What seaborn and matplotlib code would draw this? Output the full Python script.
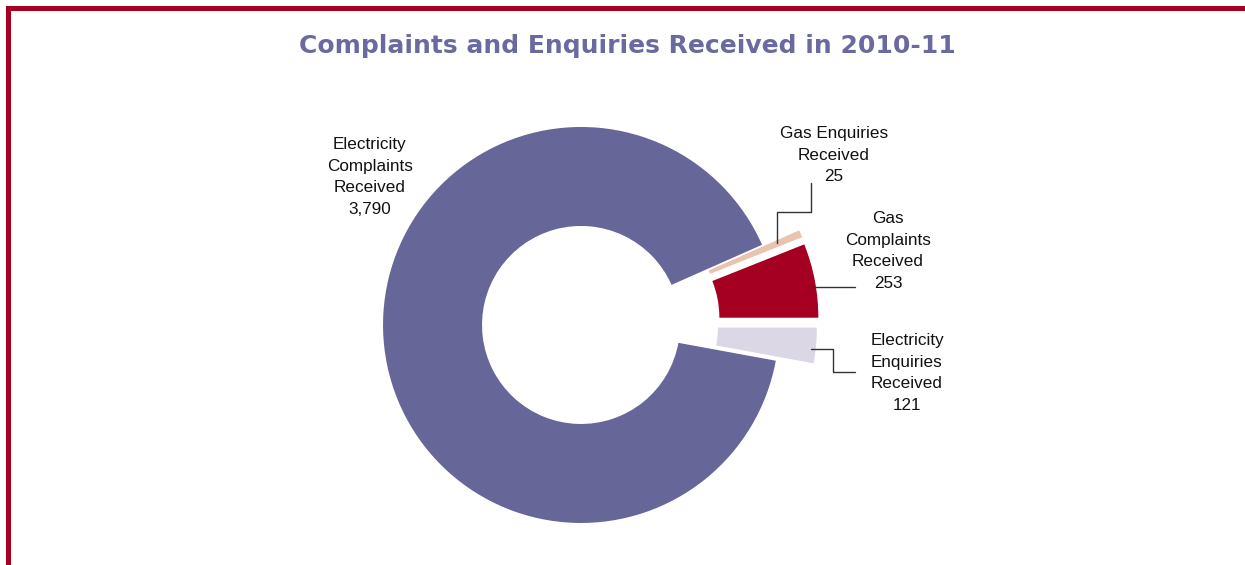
import matplotlib
matplotlib.use("Agg")
import matplotlib.pyplot as plt
import seaborn as sns
from matplotlib.patches import Rectangle

# Complaints and enquiries received, 2010-11
categories = ["Gas Complaints Received", "Gas Enquiries Received",
              "Electricity Complaints Received", "Electricity Enquiries Received"]
values = [253, 25, 3790, 121]
value_labels = ["253", "25", "3,790", "121"]
label_text = ["Gas\nComplaints\nReceived", "Gas Enquiries\nReceived",
              "Electricity\nComplaints\nReceived", "Electricity\nEnquiries\nReceived"]

sns.set_theme(style="white")
plt.rcParams["font.family"] = ["Liberation Sans", "DejaVu Sans"]

colors = sns.color_palette(["#A50021", "#E8C3AD", "#666699", "#DCD7E5"])

W, H = 1245, 565
fig = plt.figure(figsize=(W / 100, H / 100), dpi=100)
ax = fig.add_axes([0, 0, 1, 1])

def py(y):
    # pixel-row to data y (origin at bottom)
    return H - y

cx, cy = 585, py(324.5)
radius, ring = 198, 99

ax.pie(values, colors=colors, startangle=0, counterclock=True,
       explode=[36, 36, 4, 34], radius=radius, center=(cx, cy),
       wedgeprops=dict(width=ring, edgecolor="none", linewidth=0),
       frame=True)

ax.set_xlim(0, W)
ax.set_ylim(0, H)
ax.set_aspect("equal")
ax.axis("off")

# red frame along the top and left edges
red = "#A50021"
ax.add_patch(Rectangle((6, py(11)), W - 6, 5, color=red, lw=0, clip_on=False))
ax.add_patch(Rectangle((6, 0), 5, py(6), color=red, lw=0, clip_on=False))

ax.text(627, py(46), "Complaints and Enquiries Received in 2010-11",
        ha="center", va="center", fontsize=18, fontweight="bold",
        color="#6A6AA0", family=["DejaVu Sans"])

txt = dict(ha="center", va="center", fontsize=12.3, color="#111111",
           linespacing=1.55)
ax.text(370, py(177), label_text[2] + "\n" + value_labels[2], **txt)
ax.text(834, py(155), label_text[1] + "\n" + value_labels[1], **txt)
ax.text(888, py(251), label_text[0] + "\n" + value_labels[0], **txt)
ax.text(907, py(373), label_text[3] + "\n" + value_labels[3], **txt)

lk = dict(color="#333333", lw=1.0)
ax.plot([777, 777, 811, 811], [py(243), py(212), py(212), py(183)], **lk)
ax.plot([811, 855], [py(287), py(287)], **lk)
ax.plot([811, 833, 833, 855], [py(349), py(349), py(372), py(372)], **lk)

fig.savefig("out.png", dpi=100)
